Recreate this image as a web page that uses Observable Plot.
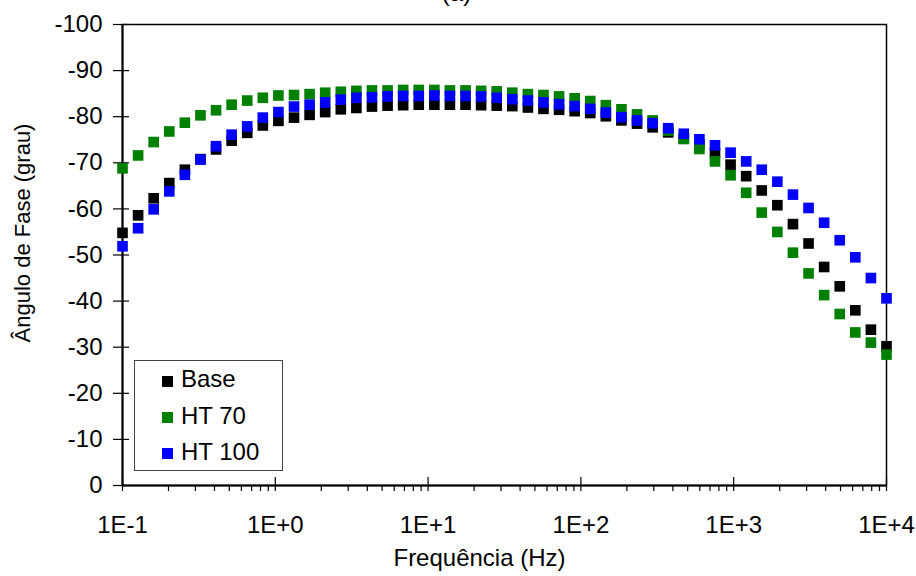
<!DOCTYPE html>
<html>
<head>
<meta charset="utf-8">
<script src="https://cdn.jsdelivr.net/npm/d3@7"></script>
<script src="https://cdn.jsdelivr.net/npm/@observablehq/plot@0.6"></script>
<style>
  html, body { margin: 0; padding: 0; background: white; }
  #wrap { position: relative; width: 916px; height: 576px; font-family: "Liberation Sans", Arial, sans-serif; }
  #legend { position: absolute; left: 134px; top: 360px; width: 147px; height: 109px; border: 1px solid #444; background: white; }
  #legend .m { position: absolute; left: 27px; width: 11px; height: 11px; }
  #legend .t { position: absolute; left: 46px; font-size: 24px; line-height: 24px; color: #000; white-space: pre; }
</style>
</head>
<body>
<div id="wrap"></div>
<script>
// Frequencies (Hz)
const freq = [0.1, 0.1265, 0.16, 0.2024, 0.256, 0.3237, 0.4095, 0.518, 0.6551, 0.8286,
  1.048, 1.326, 1.677, 2.121, 2.683, 3.393, 4.292, 5.429, 6.866, 8.685,
  10.99, 13.89, 17.58, 22.23, 28.12, 35.56, 44.98, 56.9, 71.97, 91.03,
  115.1, 145.6, 184.2, 233, 294.7, 372.8, 471.5, 596.4, 754.3, 954.1,
  1207, 1526, 1931, 2442, 3089, 3907, 4942, 6251, 7906, 10000];

// Phase angle (degrees)
const base = [-54.8, -58.6, -62.3, -65.6, -68.5, -70.8, -72.9, -74.8, -76.5, -78.1,
  -79.1, -79.8, -80.4, -81.0, -81.6, -81.9, -82.2, -82.4, -82.5, -82.6,
  -82.6, -82.6, -82.6, -82.5, -82.4, -82.3, -82.0, -81.7, -81.5, -81.2,
  -80.8, -80.1, -79.2, -78.5, -77.7, -76.6, -75.2, -74.0, -72.1, -69.6,
  -67.1, -64.0, -60.8, -56.7, -52.5, -47.4, -43.2, -38.0, -33.8, -30.2];

const ht70 = [-68.8, -71.6, -74.5, -76.8, -78.7, -80.3, -81.4, -82.6, -83.5, -84.1,
  -84.6, -84.7, -84.9, -85.2, -85.4, -85.6, -85.7, -85.7, -85.8, -85.8,
  -85.8, -85.7, -85.7, -85.6, -85.5, -85.2, -84.9, -84.7, -84.4, -84.0,
  -83.4, -82.5, -81.6, -80.5, -79.2, -77.0, -75.2, -73.0, -70.3, -67.3,
  -63.5, -59.2, -55.0, -50.5, -46.0, -41.3, -37.2, -33.2, -31.0, -28.4];

const ht100 = [-51.9, -55.8, -59.9, -63.8, -67.4, -70.7, -73.6, -76.1, -77.9, -79.8,
  -81.0, -82.2, -82.6, -83.1, -83.7, -84.1, -84.2, -84.4, -84.5, -84.5,
  -84.6, -84.5, -84.5, -84.4, -84.1, -83.8, -83.5, -83.1, -82.7, -82.3,
  -81.7, -80.9, -79.9, -79.2, -78.6, -77.5, -76.3, -75.1, -73.8, -72.2,
  -70.3, -68.5, -65.9, -63.1, -60.2, -57.0, -53.2, -49.5, -45.0, -40.6];

const seriesNames = ["Base", "HT 70", "HT 100"];
const seriesColors = ["#000000", "#008000", "#0000ff"];

const xTicks = [0.1, 1, 10, 100, 1000, 10000];
const xTickLabels = ["1E-1", "1E+0", "1E+1", "1E+2", "1E+3", "1E+4"];
const yTicks = [0, -10, -20, -30, -40, -50, -60, -70, -80, -90, -100];
const yTickLabels = ["0", "-10", "-20", "-30", "-40", "-50", "-60", "-70", "-80", "-90", "-100"];

const title = "(a)";
const xTitle = "Frequência (Hz)";
const yTitle = "Ângulo de Fase (grau)";

const xMinor = [];
for (const d of xTicks.slice(0, -1)) for (let k = 2; k <= 9; k++) xMinor.push(d * k);

const allSeries = [base, ht70, ht100];
const rows = (vals) => freq.map((f, i) => ({f, v: vals[i]}));

const font = "'Liberation Sans', Arial, sans-serif";

const chart = Plot.plot({
  width: 916,
  height: 576,
  marginLeft: 122,
  marginRight: 30,
  marginTop: 24,
  marginBottom: 91,
  style: {fontFamily: font, fontSize: "24px", color: "black", background: "white"},
  x: {type: "log", domain: [0.1, 10000]},
  y: {domain: [0, -100]},
  marks: [
    Plot.frame({stroke: "black", strokeWidth: 1.5}),
    Plot.ruleX([0.1], {stroke: "black", strokeWidth: 2}),
    Plot.ruleY([0], {stroke: "black", strokeWidth: 2}),
    // y ticks crossing the axis
    Plot.axisY({ticks: yTicks, tickSize: 16, dx: 7, fill: "none", label: null, stroke: "black", strokeWidth: 1.2}),
    Plot.axisY({ticks: yTicks, tickSize: 0, tickPadding: 20, tickFormat: (d) => yTickLabels[yTicks.indexOf(d)], fontSize: 24, label: null, fill: "black"}),
    // x major ticks crossing the axis, minor ticks outside
    Plot.axisX({ticks: xTicks, tickSize: 14, dy: -8, fill: "none", label: null, stroke: "black", strokeWidth: 1.2}),
    Plot.axisX({ticks: xMinor, tickSize: 6, fill: "none", label: null, stroke: "black", strokeWidth: 1.2}),
    Plot.axisX({ticks: xTicks, tickSize: 0, tickPadding: 30, tickFormat: (d) => xTickLabels[xTicks.indexOf(d)], fontSize: 24, label: null, fill: "black"}),
    // series
    ...allSeries.map((vals, s) => Plot.dot(rows(vals), {x: "f", y: "v", symbol: "square", r: 6, fill: seriesColors[s], stroke: "none"})),
    // titles
    Plot.text([title], {frameAnchor: "top", text: (d) => d, textAnchor: "middle", dx: -48, dy: -24, lineAnchor: "bottom", fontSize: 24, fill: "black"}),
    Plot.text([xTitle], {frameAnchor: "bottom", text: (d) => d, textAnchor: "middle", dx: -25, dy: 80, fontSize: 24, fill: "black"}),
    Plot.text([yTitle], {frameAnchor: "left", text: (d) => d, rotate: -90, textAnchor: "middle", lineAnchor: "middle", dx: -100, dy: -22, fontSize: 22, fill: "black"})
  ]
});

const wrap = document.getElementById("wrap");
wrap.appendChild(chart);

// legend
const legend = document.createElement("div");
legend.id = "legend";
const markerTops = [15, 51, 87];
const textTops = [6, 43, 79];
seriesNames.forEach((name, i) => {
  const m = document.createElement("div");
  m.className = "m";
  m.style.top = markerTops[i] + "px";
  m.style.background = seriesColors[i];
  legend.appendChild(m);
  const t = document.createElement("div");
  t.className = "t";
  t.style.top = textTops[i] + "px";
  t.textContent = name;
  legend.appendChild(t);
});
wrap.appendChild(legend);
</script>
</body>
</html>
